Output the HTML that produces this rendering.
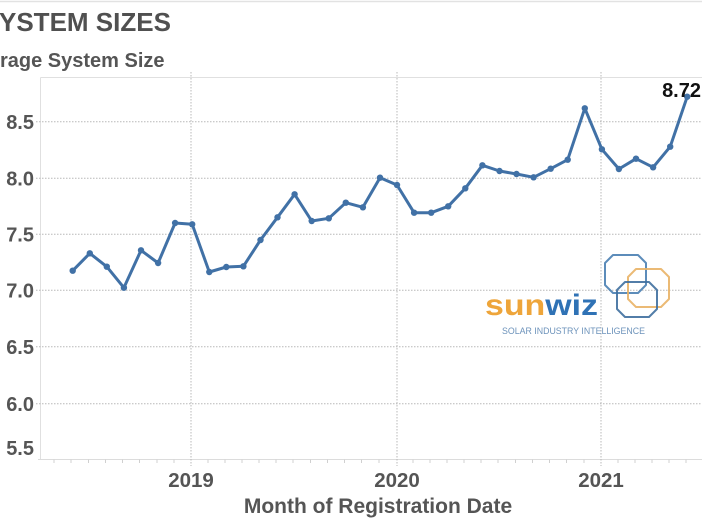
<!DOCTYPE html>
<html><head><meta charset="utf-8"><style>
html,body{margin:0;padding:0;background:#fff;}
svg{display:block;}
text{font-family:"Liberation Sans",Arial,sans-serif;}
</style></head><body>
<svg width="702" height="526" viewBox="0 0 702 526" xmlns="http://www.w3.org/2000/svg">
<rect width="702" height="526" fill="#fff"/>
<line x1="0" y1="1.5" x2="702" y2="1.5" stroke="#e2e2e2" stroke-width="1.5"/>
<text x="-1" y="31" font-size="26" font-weight="bold" fill="#505050">YSTEM SIZES</text>
<text x="0" y="67" font-size="20" font-weight="bold" fill="#555">rage System Size</text>

<!-- plot frame -->
<line x1="40.5" y1="77.5" x2="702" y2="77.5" stroke="#e0e0e0" stroke-width="1"/>
<line x1="40.5" y1="77.5" x2="40.5" y2="459.5" stroke="#e0e0e0" stroke-width="1"/>
<line x1="38" y1="459.5" x2="702" y2="459.5" stroke="#dcdcdc" stroke-width="1"/>

<!-- horizontal gridlines -->
<g stroke="#b8b8b8" stroke-width="1" stroke-dasharray="1.5,1.5">
<line x1="36" y1="121.7" x2="702" y2="121.7"/>
<line x1="36" y1="178.3" x2="702" y2="178.3"/>
<line x1="36" y1="234.3" x2="702" y2="234.3"/>
<line x1="36" y1="290.3" x2="702" y2="290.3"/>
<line x1="36" y1="346.7" x2="702" y2="346.7"/>
<line x1="36" y1="403.7" x2="702" y2="403.7"/>
</g>
<!-- vertical gridlines -->
<g stroke="#b8b8b8" stroke-width="1" stroke-dasharray="1.5,1.5">
<line x1="191" y1="72" x2="191" y2="466"/>
<line x1="397" y1="72" x2="397" y2="466"/>
<line x1="601" y1="72" x2="601" y2="466"/>
</g>
<!-- month ticks -->
<g stroke="#d0d0d0" stroke-width="1">
<line x1="54" y1="459.5" x2="54" y2="463"/>
<line x1="71" y1="459.5" x2="71" y2="463"/>
<line x1="88.5" y1="459.5" x2="88.5" y2="463"/>
<line x1="105.5" y1="459.5" x2="105.5" y2="463"/>
<line x1="122.5" y1="459.5" x2="122.5" y2="463"/>
<line x1="139.5" y1="459.5" x2="139.5" y2="463"/>
<line x1="157" y1="459.5" x2="157" y2="463"/>
<line x1="174" y1="459.5" x2="174" y2="463"/>
<line x1="208" y1="459.5" x2="208" y2="463"/>
<line x1="225" y1="459.5" x2="225" y2="463"/>
<line x1="242" y1="459.5" x2="242" y2="463"/>
<line x1="259" y1="459.5" x2="259" y2="463"/>
<line x1="276" y1="459.5" x2="276" y2="463"/>
<line x1="293" y1="459.5" x2="293" y2="463"/>
<line x1="310.5" y1="459.5" x2="310.5" y2="463"/>
<line x1="327.5" y1="459.5" x2="327.5" y2="463"/>
<line x1="344.5" y1="459.5" x2="344.5" y2="463"/>
<line x1="361.5" y1="459.5" x2="361.5" y2="463"/>
<line x1="379" y1="459.5" x2="379" y2="463"/>
<line x1="413" y1="459.5" x2="413" y2="463"/>
<line x1="430" y1="459.5" x2="430" y2="463"/>
<line x1="447" y1="459.5" x2="447" y2="463"/>
<line x1="464" y1="459.5" x2="464" y2="463"/>
<line x1="481" y1="459.5" x2="481" y2="463"/>
<line x1="498" y1="459.5" x2="498" y2="463"/>
<line x1="515.5" y1="459.5" x2="515.5" y2="463"/>
<line x1="532.5" y1="459.5" x2="532.5" y2="463"/>
<line x1="549.5" y1="459.5" x2="549.5" y2="463"/>
<line x1="566.5" y1="459.5" x2="566.5" y2="463"/>
<line x1="584" y1="459.5" x2="584" y2="463"/>
<line x1="618" y1="459.5" x2="618" y2="463"/>
<line x1="635" y1="459.5" x2="635" y2="463"/>
<line x1="652" y1="459.5" x2="652" y2="463"/>
<line x1="669" y1="459.5" x2="669" y2="463"/>
<line x1="686" y1="459.5" x2="686" y2="463"/>
</g>

<!-- y labels -->
<g font-size="20" font-weight="bold" fill="#555" text-anchor="end">
<text x="34" y="129">8.5</text>
<text x="34" y="185.5">8.0</text>
<text x="34" y="241.5">7.5</text>
<text x="34" y="297.5">7.0</text>
<text x="34" y="354">6.5</text>
<text x="34" y="411">6.0</text>
<text x="34" y="455">5.5</text>
</g>
<!-- x labels -->
<g font-size="20.5" font-weight="bold" fill="#555" text-anchor="middle">
<text x="191" y="487">2019</text>
<text x="397" y="487">2020</text>
<text x="601" y="487">2021</text>
</g>
<text x="378" y="513" font-size="21" font-weight="bold" fill="#555" text-anchor="middle">Month of Registration Date</text>

<!-- logo -->
<g fill="none" stroke-width="2" stroke-linejoin="round">
<polygon points="613,255 638,255 646,263 646,285 638,293 613,293 605,285 605,263" stroke="#4a7fb2" opacity="0.9"/>
<polygon points="636,269 661,269 669,277 669,299 661,307 636,307 628,299 628,277" stroke="#e9b266" opacity="0.9"/>
<polygon points="625,282 649,282 657,290 657,309 649,317 625,317 617,309 617,290" stroke="#3f6f9f" opacity="0.9"/>
</g>
<text x="485" y="315" font-size="30" font-weight="bold" textLength="113" lengthAdjust="spacingAndGlyphs"><tspan fill="#eea53a">sun</tspan><tspan fill="#2f72b5">wiz</tspan></text>
<text x="502" y="334" font-size="9" fill="#6d93bb" textLength="143" lengthAdjust="spacingAndGlyphs">SOLAR INDUSTRY INTELLIGENCE</text>

<!-- series -->
<polyline fill="none" stroke="#4171a6" stroke-width="3" stroke-linejoin="round" stroke-linecap="round" points="72.7,270.7 89.8,253.3 106.8,266.7 123.9,287.7 141.0,250.3 158.1,263 175.1,223 192.2,224.3 209.3,272 226.3,267 243.4,266.3 260.5,240 277.5,217.3 294.6,194.3 311.7,221 328.8,218.3 345.8,202.7 362.9,207.3 380.0,177.7 397.0,185 414.1,212.7 431.2,212.7 448.2,206.3 465.3,188.3 482.4,165.3 499.5,171 516.5,174 533.6,177.3 550.7,168.7 567.7,159.7 584.8,108.3 601.9,149.3 618.9,169 636.0,158.7 653.1,167.3 670.2,146.7 687.2,96.7"/>
<g fill="#4171a6">
<circle cx="72.7" cy="270.7" r="3.2"/><circle cx="89.8" cy="253.3" r="3.2"/><circle cx="106.8" cy="266.7" r="3.2"/><circle cx="123.9" cy="287.7" r="3.2"/><circle cx="141.0" cy="250.3" r="3.2"/><circle cx="158.1" cy="263" r="3.2"/><circle cx="175.1" cy="223" r="3.2"/><circle cx="192.2" cy="224.3" r="3.2"/><circle cx="209.3" cy="272" r="3.2"/><circle cx="226.3" cy="267" r="3.2"/><circle cx="243.4" cy="266.3" r="3.2"/><circle cx="260.5" cy="240" r="3.2"/><circle cx="277.5" cy="217.3" r="3.2"/><circle cx="294.6" cy="194.3" r="3.2"/><circle cx="311.7" cy="221" r="3.2"/><circle cx="328.8" cy="218.3" r="3.2"/><circle cx="345.8" cy="202.7" r="3.2"/><circle cx="362.9" cy="207.3" r="3.2"/><circle cx="380.0" cy="177.7" r="3.2"/><circle cx="397.0" cy="185" r="3.2"/><circle cx="414.1" cy="212.7" r="3.2"/><circle cx="431.2" cy="212.7" r="3.2"/><circle cx="448.2" cy="206.3" r="3.2"/><circle cx="465.3" cy="188.3" r="3.2"/><circle cx="482.4" cy="165.3" r="3.2"/><circle cx="499.5" cy="171" r="3.2"/><circle cx="516.5" cy="174" r="3.2"/><circle cx="533.6" cy="177.3" r="3.2"/><circle cx="550.7" cy="168.7" r="3.2"/><circle cx="567.7" cy="159.7" r="3.2"/><circle cx="584.8" cy="108.3" r="3.2"/><circle cx="601.9" cy="149.3" r="3.2"/><circle cx="618.9" cy="169" r="3.2"/><circle cx="636.0" cy="158.7" r="3.2"/><circle cx="653.1" cy="167.3" r="3.2"/><circle cx="670.2" cy="146.7" r="3.2"/><circle cx="687.2" cy="96.7" r="3.2"/>
</g>
<text x="701" y="97" font-size="20" font-weight="bold" fill="#111" text-anchor="end">8.72</text>
</svg>
</body></html>
